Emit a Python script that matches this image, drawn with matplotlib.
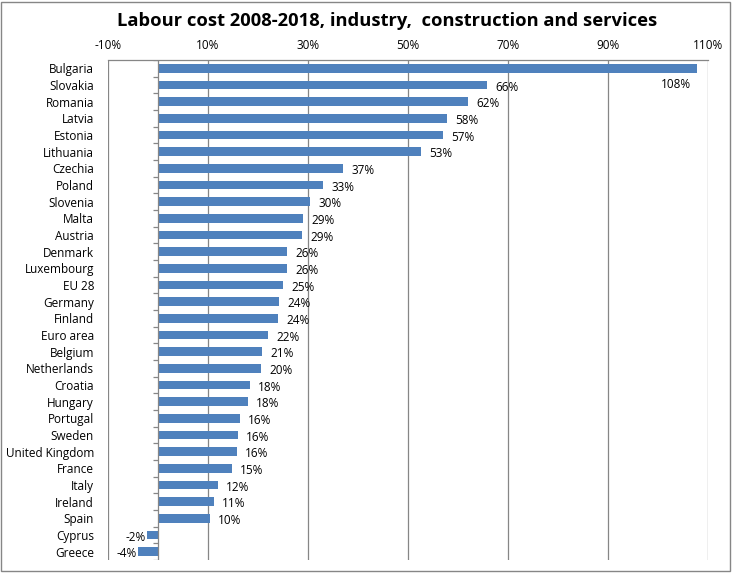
import matplotlib

matplotlib.use("Agg")

import matplotlib.pyplot as plt
import numpy as np
from matplotlib.patches import Rectangle

countries = [
    "Bulgaria", "Slovakia", "Romania", "Latvia", "Estonia", "Lithuania",
    "Czechia", "Poland", "Slovenia", "Malta", "Austria", "Denmark",
    "Luxembourg", "EU 28", "Germany", "Finland", "Euro area", "Belgium",
    "Netherlands", "Croatia", "Hungary", "Portugal", "Sweden",
    "United Kingdom", "France", "Italy", "Ireland", "Spain", "Cyprus",
    "Greece",
]
values = [
    107.8, 65.8, 62.0, 57.8, 57.0, 52.6, 37.0, 33.0, 30.4, 29.0, 28.8,
    25.8, 25.8, 25.0, 24.2, 24.0, 22.0, 20.8, 20.6, 18.4, 18.0, 16.4,
    16.0, 15.8, 14.8, 12.0, 11.2, 10.4, -2.2, -4.0,
]
labels = [
    "108%", "66%", "62%", "58%", "57%", "53%", "37%", "33%", "30%", "29%",
    "29%", "26%", "26%", "25%", "24%", "24%", "22%", "21%", "20%", "18%",
    "18%", "16%", "16%", "16%", "15%", "12%", "11%", "10%", "-2%", "-4%",
]
xticks = [-10, 10, 30, 50, 70, 90, 110]

BAR = "#4F81BD"
GRID = "#868686"
INK = "#000000"

plt.rcParams["font.family"] = ["Open Sans", "DejaVu Sans"]

fig = plt.figure(figsize=(7.32, 5.75), dpi=100)
ax = fig.add_axes([108 / 732, 1 - 560 / 575, 600 / 732, 500 / 575])

n = len(countries)
y = np.arange(n)
ax.barh(y, values, height=0.52, color=BAR, zorder=3)

ax.set_xlim(-10, 110)
ax.set_ylim(n - 0.5, -0.5)
ax.set_xticks(xticks)
ax.set_xticklabels([f"{t}%" for t in xticks], fontsize=8.5, color=INK)
ax.xaxis.tick_top()
ax.tick_params(axis="x", length=0, pad=6)
ax.grid(axis="x", color=GRID, lw=0.9, zorder=0)

ax.set_yticks(y)
ax.set_yticklabels(countries, fontsize=8.5, color=INK)
ax.tick_params(axis="y", length=0, pad=10)

for side in ["bottom", "left", "right"]:
    ax.spines[side].set_visible(False)
ax.spines["top"].set_color(GRID)
ax.spines["top"].set_linewidth(0.9)

# category axis at zero with boundary ticks
ax.axvline(0, color=GRID, lw=0.9, zorder=4)
ax.hlines(np.arange(n + 1) - 0.5, -1.0, 0, color=GRID, lw=0.9, zorder=4)

for i, (v, lab) in enumerate(zip(values, labels)):
    if i == 0:
        ax.annotate(lab, xy=(v, i), xytext=(-4, -7), textcoords="offset points",
                    ha="right", va="top", fontsize=8.5, color=INK)
    elif v >= 0:
        ax.annotate(lab, xy=(v, i), xytext=(6, -1.5), textcoords="offset points",
                    ha="left", va="center", fontsize=8.5, color=INK)
    else:
        ax.annotate(lab, xy=(v, i), xytext=(-1, -1.5), textcoords="offset points",
                    ha="right", va="center", fontsize=8.5, color=INK)

fig.text(387 / 732, 1 - 21 / 575,
         "Labour cost 2008-2018, industry,  construction and services",
         ha="center", va="center", fontsize=13.2, fontweight="bold", color=INK)

fig.patches.append(Rectangle((1 / 732, 1 - 571 / 575), 729 / 732, 569 / 575,
                             transform=fig.transFigure, fill=False,
                             edgecolor=GRID, lw=1))

fig.savefig("out.png", dpi=100)
